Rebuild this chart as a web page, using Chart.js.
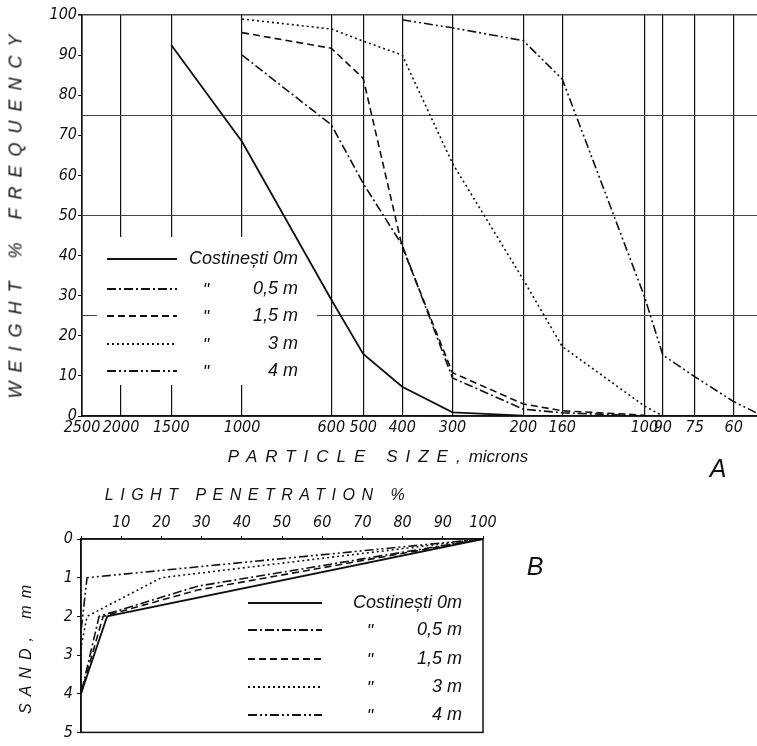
<!DOCTYPE html>
<html>
<head>
<meta charset="utf-8">
<script src="https://cdn.jsdelivr.net/npm/chart.js@4.4.1/dist/chart.umd.min.js"></script>
<style>
  body { margin: 0; background: #fff; }
  #wrap { position: relative; width: 757px; height: 746px; overflow: hidden; color: #111;
          font-family: 'Liberation Sans', Arimo, sans-serif; font-style: italic; }
  canvas { position: absolute; left: 0; }
  #chartA { top: 0; }
  #chartB { top: 480px; }
  .lbl { position: absolute; white-space: nowrap; transform: translate(-50%, -50%); }
  .rot { transform: translate(-50%, -50%) rotate(-90deg); }
  .cap { font-size: 17px; letter-spacing: 8px; }
  .big { font-size: 25px; }
</style>
</head>
<body>
<div id="wrap">
  <canvas id="chartA" width="757" height="485"></canvas>
  <canvas id="chartB" width="757" height="266"></canvas>

  <div class="lbl rot cap" style="left:16px; top:212px; font-size:18px; letter-spacing:9px;">WEIGHT % FREQUENCY</div>
  <div class="lbl" style="left:378px; top:457px;"><span class="cap">PARTICLE SIZE,</span><span style="font-size:17px;">microns</span></div>
  <div class="lbl big" style="left:718px; top:468px;">A</div>

  <div class="lbl cap" style="left:258px; top:495px; font-size:16px; letter-spacing:6.5px;">LIGHT PENETRATION %</div>
  <div class="lbl rot cap" style="left:26px; top:646px; font-size:16px; letter-spacing:7px;">SAND, mm</div>
  <div class="lbl big" style="left:535px; top:566px;">B</div>
</div>

<script>
// ── DATA ────────────────────────────────────────
// panel A : particle size (microns) vs weight % frequency
const sizeTicks = [2500, 2000, 1500, 1000, 600, 500, 400, 300, 200, 160, 100, 90, 75, 60];

const size0m  = [1500, 1000, 600, 500, 400, 300, 200, 160];
const wt0m    = [92.5, 68.4, 29, 15.5, 7.3, 0.9, 0.1, 0];
const size05m = [1000, 600, 500, 400, 300, 200, 160, 100];
const wt05m   = [90, 72.6, 58, 42.6, 9.5, 1.7, 0.8, 0];
const size15m = [1000, 600, 500, 400, 300, 200, 160, 100];
const wt15m   = [95.6, 91.7, 84.2, 42.2, 10.8, 3, 1.3, 0.2];
const size3m  = [1000, 600, 500, 400, 300, 200, 160, 100, 90];
const wt3m    = [99, 96.5, 93.5, 90, 63, 34, 17.3, 2.5, 0];
const size4m  = [400, 300, 200, 160, 100, 90, 75, 60, 52.5];
const wt4m    = [98.8, 96.8, 93.6, 84, 29.8, 15.2, 9.8, 3.6, 0.7];

// panel B : light penetration % vs sand depth (mm)
const light0m  = [100, 6.5, 0];
const depth0m  = [0, 2, 4];
const light05m = [100, 29, 4.5, 0];
const depth05m = [0, 1.22, 2, 4];
const light15m = [100, 29, 5.5, 0];
const depth15m = [0, 1.32, 2, 4];
const light3m  = [100, 20, 1.5, 0, 0];
const depth3m  = [0, 1, 2, 2.8, 4];
const light4m  = [100, 1.5, 0, 0];
const depth4m  = [0, 1, 2.4, 4];

const legendNames = ['Costinești 0m', '0,5 m', '1,5 m', '3 m', '4 m'];

// ── STYLES ──────────────────────────────────────
const dashes = [[], [9, 3, 2, 3], [7, 4], [2, 3], [9, 3, 2, 3, 2, 3]];
const INK = '#111';
const tickFont = { family: "'Liberation Sans Narrow', 'DejaVu Sans Condensed', sans-serif", size: 16, style: 'italic' };
const legendFont = "italic 18px 'Liberation Sans', Arimo, sans-serif";

const pts = (xs, ys) => xs.map((x, i) => ({ x, y: ys[i] }));

function series(list) {
  return list.map(([xs, ys], i) => ({
    data: pts(xs, ys),
    borderColor: INK,
    borderWidth: i === 0 ? 1.8 : 1.6,
    borderDash: dashes[i],
    pointRadius: 0,
    tension: 0,
    fill: false
  }));
}

// ── LEGEND (drawn inside the plot) ──────────────
function drawLegend(ctx, o) {
  ctx.save();
  ctx.strokeStyle = INK;
  ctx.fillStyle = INK;
  ctx.font = legendFont;
  ctx.textBaseline = 'middle';
  legendNames.forEach((name, i) => {
    const y = o.rows[i];
    ctx.lineWidth = 1.8;
    ctx.setLineDash(dashes[i]);
    ctx.beginPath();
    ctx.moveTo(o.x0, y);
    ctx.lineTo(o.x1, y);
    ctx.stroke();
    ctx.setLineDash([]);
    ctx.textAlign = 'right';
    ctx.fillText(name, o.right, y);
    if (i > 0) {
      ctx.textAlign = 'center';
      ctx.fillText('"', o.ditto, y + 2);
    }
  });
  ctx.restore();
}

const legendA = {
  id: 'legendA',
  beforeDatasetsDraw(chart) {
    const c = chart.ctx;
    c.save();
    c.fillStyle = '#fff';
    c.fillRect(97, 237, 220, 148);
    c.restore();
  },
  afterDatasetsDraw(chart) {
    drawLegend(chart.ctx, { x0: 107, x1: 177, rows: [259, 289, 316, 344, 371], ditto: 206, right: 298 });
  }
};

const legendB = {
  id: 'legendB',
  afterDatasetsDraw(chart) {
    drawLegend(chart.ctx, { x0: 248, x1: 322, rows: [123, 150, 179, 207, 235], ditto: 370, right: 462 });
  },
  afterDraw(chart) {
    const { left, top, width, height } = chart.chartArea;
    const c = chart.ctx;
    c.save();
    c.strokeStyle = INK;
    c.lineWidth = 1.5;
    c.strokeRect(left, top, width, height);
    c.restore();
  }
};

// ── CHART A ─────────────────────────────────────
new Chart(document.getElementById('chartA'), {
  type: 'line',
  data: {
    datasets: series([[size0m, wt0m], [size05m, wt05m], [size15m, wt15m], [size3m, wt3m], [size4m, wt4m]])
  },
  options: {
    responsive: false,
    animation: false,
    devicePixelRatio: 1,
    layout: { padding: { top: 15, right: 0, left: 0, bottom: 0 } },
    plugins: { legend: { display: false }, tooltip: { enabled: false } },
    scales: {
      x: {
        type: 'logarithmic',
        reverse: true,
        min: 52.5,
        max: 2500,
        afterBuildTicks: s => { s.ticks = sizeTicks.map(v => ({ value: v })); },
        afterFit: s => { s.height = 69; },
        grid: { color: INK, lineWidth: 1.2, drawTicks: false },
        border: { color: INK, width: 1.6 },
        ticks: {
          autoSkip: false, maxRotation: 0, padding: 2,
          color: INK, font: tickFont,
          callback: v => String(v)
        }
      },
      y: {
        min: 0,
        max: 100,
        afterFit: s => { s.width = 82; },
        grid: {
          color: c => (c.tick && c.tick.value % 25 === 0) ? '#444' : 'rgba(0,0,0,0)',
          lineWidth: c => (c.tick && c.tick.value === 100) ? 1.6 : 1,
          tickColor: c => (c.tick && c.tick.value % 10 === 0) ? INK : 'rgba(0,0,0,0)',
          tickLength: 4
        },
        border: { color: INK, width: 1.6 },
        ticks: {
          stepSize: 5, padding: 1, autoSkip: false,
          color: INK, font: tickFont,
          callback: v => v % 10 === 0 ? v : ''
        }
      }
    }
  },
  plugins: [legendA]
});

// ── CHART B ─────────────────────────────────────
new Chart(document.getElementById('chartB'), {
  type: 'line',
  data: {
    datasets: series([[light0m, depth0m], [light05m, depth05m], [light15m, depth15m], [light3m, depth3m], [light4m, depth4m]])
  },
  options: {
    responsive: false,
    animation: false,
    devicePixelRatio: 1,
    layout: { padding: { top: 0, right: 274, left: 0, bottom: 7 } },
    plugins: { legend: { display: false }, tooltip: { enabled: false } },
    scales: {
      x: {
        type: 'linear',
        position: 'top',
        min: 0,
        max: 100,
        afterFit: s => { s.height = 59; },
        grid: { drawOnChartArea: false, tickLength: 3, tickColor: INK },
        border: { color: INK, width: 1.5 },
        ticks: {
          stepSize: 10, padding: 4, maxRotation: 0,
          color: INK, font: tickFont,
          callback: v => v === 0 ? '' : v
        }
      },
      y: {
        type: 'linear',
        reverse: true,
        min: 0,
        max: 5,
        afterFit: s => { s.width = 81; },
        grid: { drawOnChartArea: false, tickLength: 4, tickColor: INK },
        border: { color: INK, width: 1.5 },
        ticks: {
          stepSize: 1, padding: 4,
          color: INK, font: tickFont
        }
      }
    }
  },
  plugins: [legendB]
});
</script>
</body>
</html>
